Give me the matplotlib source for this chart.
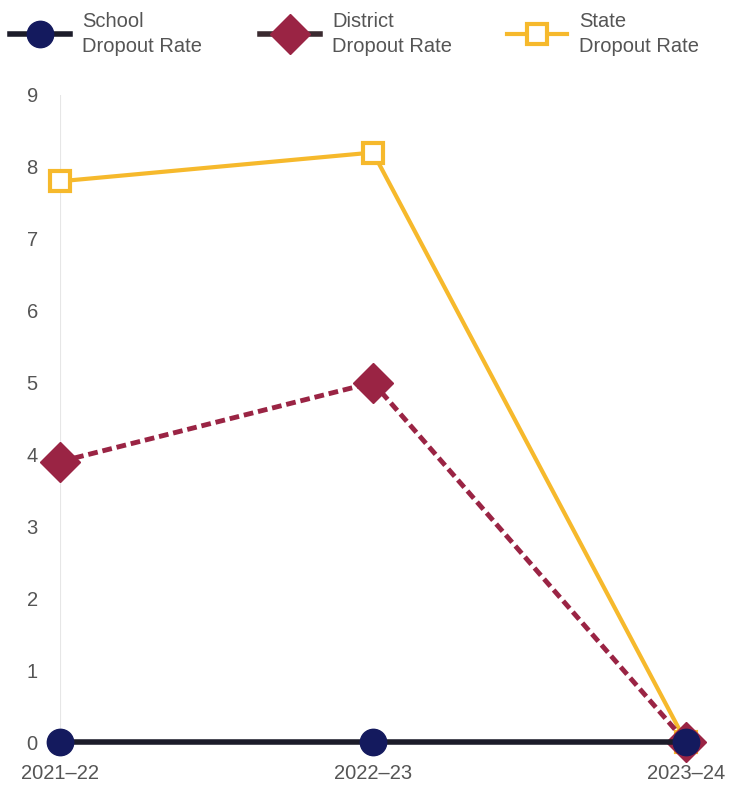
import matplotlib
matplotlib.use("Agg")
import matplotlib.pyplot as plt
from matplotlib.lines import Line2D

years = ["2021\u201322", "2022\u201323", "2023\u201324"]
school_rate = [0, 0, 0]
district_rate = [3.9, 5.0, 0]
state_rate = [7.8, 8.2, 0]
y_ticks = [0, 1, 2, 3, 4, 5, 6, 7, 8, 9]

navy = "#141a5e"
maroon = "#9a2444"
gold = "#f6b92c"
label_gray = "#555555"

plt.rcParams["font.family"] = ["Liberation Sans", "DejaVu Sans"]

fig = plt.figure(figsize=(7.31, 7.91), dpi=100)
ax = fig.add_axes([60 / 731, 1 - 742 / 791, (686 - 60) / 731, (742 - 95) / 791])

x = list(range(len(years)))

ax.plot(x, state_rate, color=gold, lw=3, marker="s", ms=15, mfc="white",
        mec=gold, mew=3, zorder=3, clip_on=False)
ax.plot(x, district_rate, color=maroon, lw=3.5, ls=(0, (2, 1)), marker="D",
        ms=20, mfc=maroon, mec=maroon, zorder=4, clip_on=False)
ax.plot(x, school_rate, color="#1c1c2a", lw=4, marker="o", ms=19,
        mfc=navy, mec=navy, zorder=5, clip_on=False)

ax.set_xlim(0, 2)
ax.set_ylim(0, 9)
ax.set_xticks(x)
ax.set_xticklabels(years)
ax.set_yticks(y_ticks)
ax.tick_params(length=0, labelsize=14.5, labelcolor=label_gray)
ax.tick_params(axis="x", pad=16)
ax.tick_params(axis="y", pad=16)
for s in ax.spines.values():
    s.set_visible(False)
ax.axvline(0, color="#e6e6e6", lw=0.8, zorder=0)

# Legend row drawn in figure coordinates
def legend_entry(cx, color, lw, ls, marker, ms, mfc, mec, mew, label):
    y = 1 - 34 / 791
    fig.add_artist(Line2D([(cx - 30) / 731, (cx + 30) / 731], [y, y], color=color,
                          lw=lw, ls=ls, transform=fig.transFigure))
    fig.add_artist(Line2D([cx / 731], [y], marker=marker, ms=ms, mfc=mfc, mec=mec,
                          mew=mew, ls="none", transform=fig.transFigure))
    fig.text((cx + 42) / 731, y, label, ha="left", va="center", fontsize=14.5,
             color=label_gray, linespacing=1.35)

legend_entry(40, "#1c1c2a", 4, "-", "o", 19, navy, navy, 1, "School\nDropout Rate")
legend_entry(290, "#3a2a30", 4, "-", "D", 20, maroon, maroon, 1, "District\nDropout Rate")
legend_entry(537, gold, 3, "-", "s", 15, "white", gold, 3, "State\nDropout Rate")

fig.savefig("out.png", dpi=100)
